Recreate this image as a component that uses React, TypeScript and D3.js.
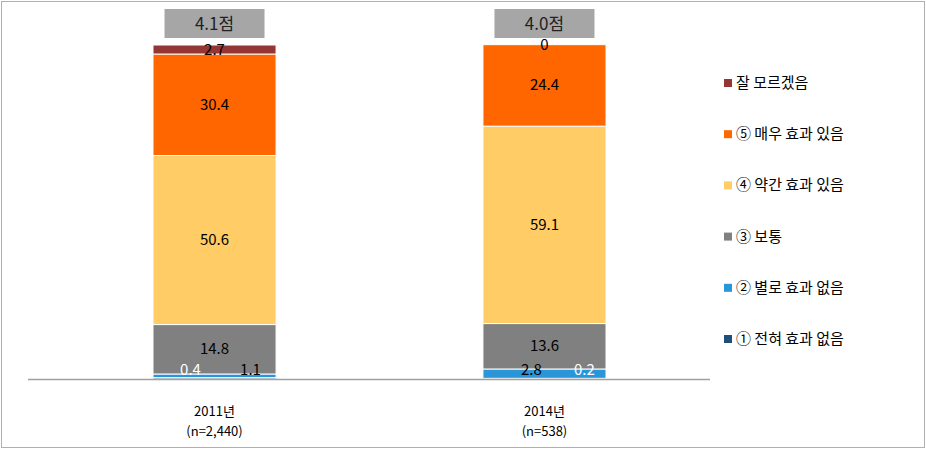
import * as d3 from 'd3'

const years = ['2011년', '2014년']
const sampleSizes = ['(n=2,440)', '(n=538)']
const scores = ['4.1점', '4.0점']

// stacked from the bottom up
const seriesNames = ['① 전혀 효과 없음', '② 별로 효과 없음', '③ 보통', '④ 약간 효과 있음', '⑤ 매우 효과 있음', '잘 모르겠음']
const seriesColors = ['#1f4e79', '#2a96d8', '#808080', '#ffcc66', '#ff6600', '#943634']
const values2011 = [0.4, 1.1, 14.8, 50.6, 30.4, 2.7]
const values2014 = [0.2, 2.8, 13.6, 59.1, 24.4, 0]
const allValues = [values2011, values2014]

const width = 926
const height = 454
const axisY = 379
const topY = 45
const font = '"Noto Sans CJK KR", "Noto Sans", sans-serif'

export default function App() {
  const x = d3.scaleBand<string>().domain(years).range([70.5, 688.5]).paddingInner(0.627).paddingOuter(0.25)
  const y = d3.scaleLinear().domain([0, 100]).range([axisY, topY])

  const stacks = allValues.map((vals) => {
    let acc = 0
    return vals.map((v, i) => {
      const y0 = acc
      acc += v
      return { i, v, y0, y1: acc }
    })
  })

  const legendY = d3.scalePoint<string>().domain([...seriesNames].reverse()).range([83, 339])

  return (
    <div style={{ position: 'absolute', left: 0, top: 0 }}>
      <svg width={width} height={height} style={{ display: 'block', fontFamily: font }}>
        <rect x={1.5} y={1.5} width={width - 3} height={446} fill="#fff" stroke="#b0b0b0" />

        {stacks.map((segs, bi) => {
          const bx = x(years[bi]) ?? 0
          const bw = x.bandwidth()
          const cx = bx + bw / 2
          return (
            <g key={years[bi]}>
              {segs.map((s) =>
                s.v > 0 ? (
                  <rect
                    key={s.i}
                    x={bx}
                    y={y(s.y1)}
                    width={bw}
                    height={y(s.y0) - y(s.y1)}
                    fill={seriesColors[s.i]}
                    stroke="#fff"
                    strokeWidth={1}
                  />
                ) : null,
              )}
              {segs.map((s) => {
                if (s.i < 2) {
                  // tiny bottom segments: labels placed side by side
                  const small = s.i === 0
                  const lx = bi === 0 ? (small ? cx - 24 : cx + 36) : small ? cx + 40 : cx - 13
                  return (
                    <text
                      key={'l' + s.i}
                      x={lx}
                      y={375}
                      textAnchor="middle"
                      fontSize={15}
                      fill={small ? '#fff' : '#000'}
                    >
                      {s.v.toFixed(1)}
                    </text>
                  )
                }
                const mid = y((s.y0 + s.y1) / 2)
                return (
                  <text
                    key={'l' + s.i}
                    x={cx}
                    y={s.v === 0 ? topY + 5 : mid + 5}
                    textAnchor="middle"
                    fontSize={15}
                    fill="#000"
                  >
                    {s.v === 0 ? '0' : s.v.toFixed(1)}
                  </text>
                )
              })}
              <rect x={cx - 50} y={9} width={100} height={29} fill="#a6a6a6" />
              <text x={cx} y={30} textAnchor="middle" fontSize={17} fill="#222">
                {scores[bi]}
              </text>
              <text x={cx} y={416} textAnchor="middle" fontSize={13} fill="#000">
                {years[bi]}
              </text>
              <text x={cx} y={436} textAnchor="middle" fontSize={13} fill="#000">
                {sampleSizes[bi]}
              </text>
            </g>
          )
        })}

        <line x1={28} x2={710} y1={axisY + 0.5} y2={axisY + 0.5} stroke="#a0a0a0" strokeWidth={1.5} />

        {seriesNames.map((name, i) => {
          const ly = legendY(name) ?? 0
          return (
            <g key={name}>
              <rect x={724} y={ly - 4} width={8} height={8} fill={seriesColors[i]} />
              <text x={736} y={ly + 5} fontSize={15} fill="#000">
                {name}
              </text>
            </g>
          )
        })}
      </svg>
    </div>
  )
}
